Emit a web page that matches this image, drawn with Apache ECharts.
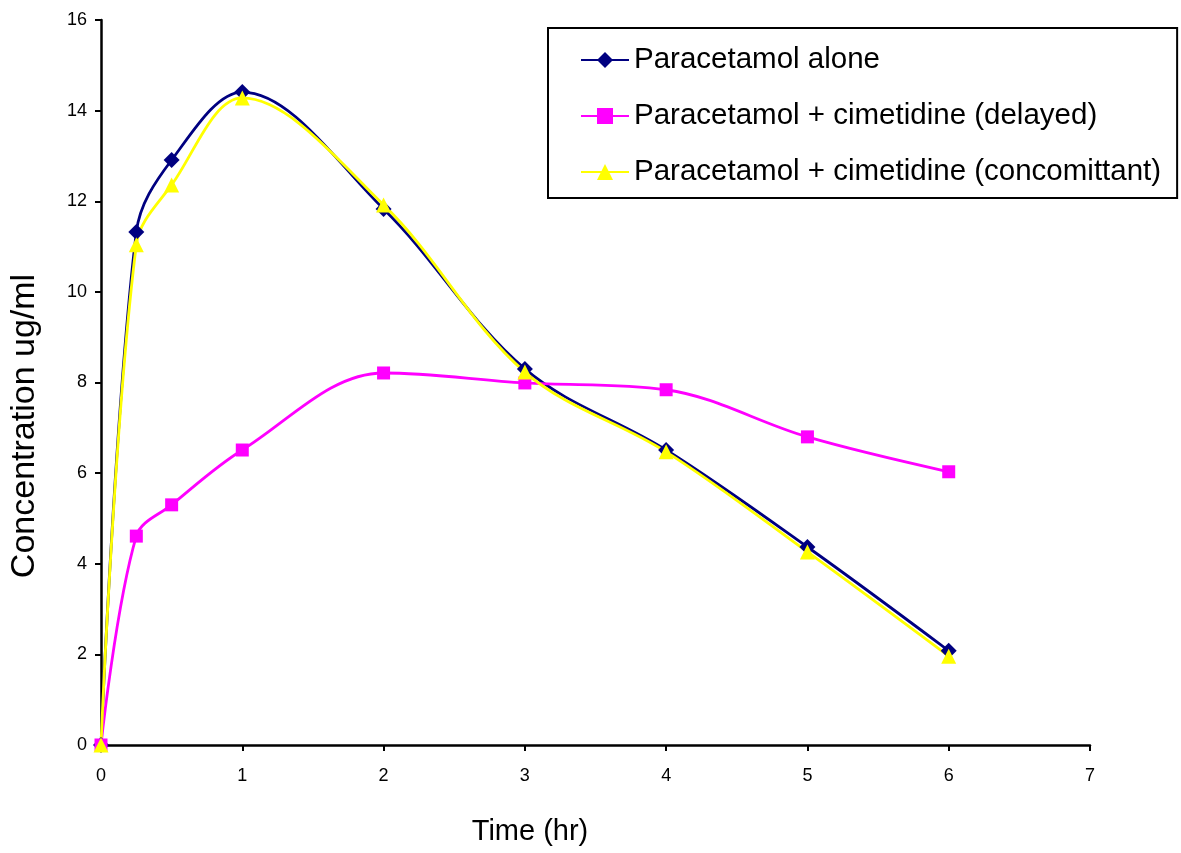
<!DOCTYPE html>
<html><head><meta charset="utf-8">
<script src="https://cdn.jsdelivr.net/npm/echarts@6/dist/echarts.min.js"></script>
<style>html,body{margin:0;padding:0;background:#fff}#c{width:1181px;height:853px}</style>
</head><body><div id="c"></div>
<script>
const times = [0, 0.25, 0.5, 1, 2, 3, 4, 5, 6];
const alone = [0, 11.32, 12.91, 14.41, 11.83, 8.30, 6.51, 4.37, 2.08];
const delayed = [0, 4.61, 5.30, 6.51, 8.21, 7.99, 7.84, 6.80, 6.03];
const concomitant = [0, 11.04, 12.36, 14.28, 11.92, 8.23, 6.47, 4.26, 1.96];
const seriesNames = ['Paracetamol alone', 'Paracetamol + cimetidine (delayed)', 'Paracetamol + cimetidine (concomittant)'];
const xTitle = 'Time (hr)';
const yTitle = 'Concentration ug/ml';
const font = 'Liberation Sans, Arial, sans-serif';

const pair = arr => times.map((t, i) => [t, arr[i]]);
const chart = echarts.init(document.getElementById('c'));
const mk = (name, data, color, symbol, size) => ({
  name, type: 'line', data: pair(data), smooth: 0.35,
  symbol, symbolSize: size,
  lineStyle: { color, width: 2.8 },
  itemStyle: { color },
  emphasis: { disabled: true }
});
chart.setOption({
  animation: false,
  grid: { left: 101, right: 91, top: 20, bottom: 108 },
  xAxis: {
    type: 'value', min: 0, max: 7, interval: 1,
    axisLine: { show: true, lineStyle: { color: '#000', width: 2.5 } },
    axisTick: { show: true, length: 6, lineStyle: { color: '#000', width: 2 } },
    axisLabel: { color: '#000', fontSize: 18, fontFamily: font, margin: 22 },
    splitLine: { show: false }
  },
  yAxis: {
    type: 'value', min: 0, max: 16, interval: 2,
    axisLine: { show: true, lineStyle: { color: '#000', width: 2.5 } },
    axisTick: { show: true, length: 6, lineStyle: { color: '#000', width: 2 } },
    axisLabel: { color: '#000', fontSize: 18, fontFamily: font, margin: 14 },
    splitLine: { show: false }
  },
  legend: {
    orient: 'vertical', left: 548, top: 28,
    padding: [17, 16, 11, 32], itemGap: 26,
    itemWidth: 48, itemHeight: 20,
    borderColor: '#000', borderWidth: 2,
    textStyle: { color: '#000', fontSize: 29.5, fontFamily: font },
    data: seriesNames
  },
  graphic: [{
    type: 'text', x: 530, y: 832,
    style: { text: xTitle, fill: '#000', fontSize: 29, fontFamily: font, align: 'center', verticalAlign: 'middle' }
  }, {
    type: 'text', x: 25, y: 426, rotation: Math.PI / 2,
    style: { text: yTitle, fill: '#000', fontSize: 34, fontFamily: font, align: 'center', verticalAlign: 'middle' }
  }],
  series: [
    mk(seriesNames[0], alone, '#000080', 'diamond', 16),
    mk(seriesNames[1], delayed, '#FF00FF', 'rect', 13),
    mk(seriesNames[2], concomitant, '#FFFF00', 'triangle', 15)
  ]
});
</script></body></html>
